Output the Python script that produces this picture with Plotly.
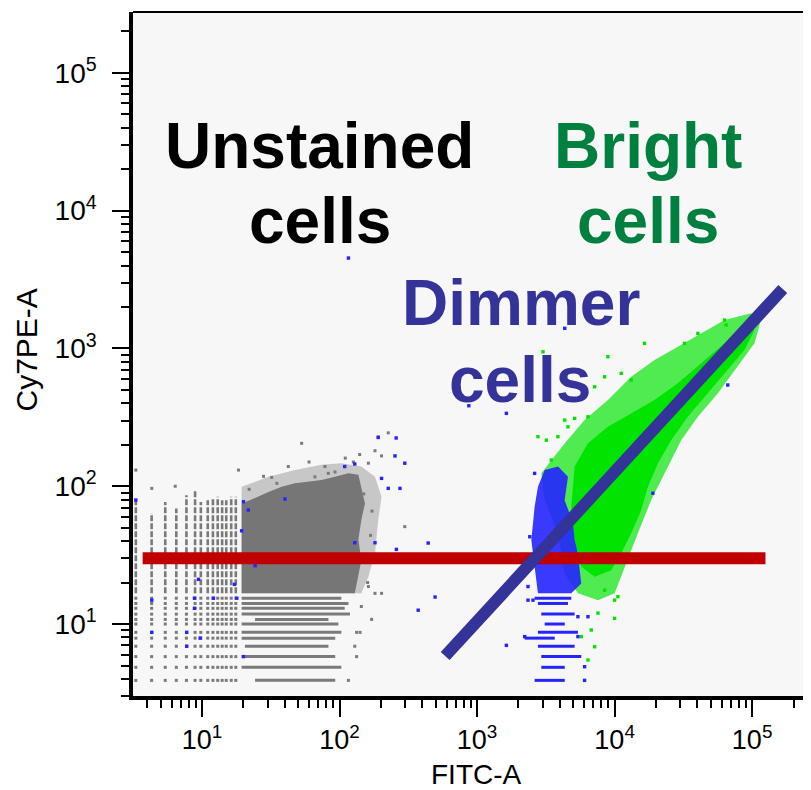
import plotly.graph_objects as go

# ---------------- axis ticks ----------------
major_vals = [1e1, 1e2, 1e3, 1e4, 1e5]
major_text = ["10<sup>1</sup>", "10<sup>2</sup>", "10<sup>3</sup>", "10<sup>4</sup>", "10<sup>5</sup>"]
minor_mult = [2, 3, 4, 5, 6, 7, 8, 9]
minor_decades = [1, 10, 100, 1000, 10000, 100000]

# ---------------- unstained (gray) population ----------------
gray_core_x = [19.4, 24.3, 30.4, 37.9, 47.4, 59.3, 74, 92.6, 116, 137, 144, 153, 144, 137, 144, 137, 129, 19.4]
gray_core_y = [75, 82, 91, 99, 105, 108, 111, 117, 124, 121, 99, 75, 57, 41, 29, 22, 16.7, 16.7]
gray_halo_x = [19.4, 30.4, 47.4, 74, 103, 144, 181, 202, 191, 181, 162, 144, 19.4]
gray_halo_y = [99, 117, 131, 143, 147, 139, 117, 84, 56.9, 32.6, 22, 16.7, 16.7]
# discrete low-value columns (FITC) and rows (Cy7PE)
col_x = [3.3, 4.3, 5.4, 6.5, 7.7, 8.9, 9.8, 11, 12, 13, 14, 15, 16.3, 17.6]
col_top = [79, 64, 77, 69, 86, 94, 77, 79, 82, 84, 79, 79, 84, 84]
col_bottom = 16.7
row_y = [15.4, 14.1, 13.0, 11.8, 10.8, 10.0, 8.7, 7.9, 6.9, 5.8, 4.85, 3.9]
row_start = [19.4, 19.4, 19.4, 19.4, 24.3, 19.4, 19.4, 19.4, 20.5, 19.4, 19.4, 24.3]
row_end = [103, 116, 109, 119, 83, 98, 103, 93, 83, 93, 103, 93]
gray_out_x = [53, 226, 181, 202, 162, 78.3, 42.4, 32.1, 18.4, 6.38, 4.31, 3.3, 298, 162, 181, 202, 144, 171,
              133, 141, 129, 133, 116, 82.8, 92.6, 66.2, 191, 126, 150, 172, 168, 158, 160, 28, 60, 110, 140, 35, 22]
gray_out_y = [205, 244, 181, 166, 147, 139, 139, 116, 131, 100, 96.5, 131, 50.9, 18.7, 16.7, 16.7, 13.4, 10.8,
              8.7, 8.7, 6.9, 5.8, 3.9, 124, 127, 117, 228, 150, 88, 66, 44, 28, 20, 118, 150, 160, 170, 105, 95]

# ---------------- dimmer (blue) population ----------------
blue_core_x = [3100, 3880, 4580, 4330, 5120, 5410, 5720, 4840, 2770, 2620, 2480, 2620, 2770]
blue_core_y = [131, 139, 117, 79, 50.8, 32.6, 19.7, 16.7, 16.7, 26.1, 40.7, 71, 99]
blue_row_y = [15.4, 14.1, 11.8, 10.0, 8.7, 7.9, 6.9, 5.8, 4.85, 3.9]
blue_row_start = [2620, 2770, 2930, 3100, 2770, 2220, 2770, 2930, 2930, 2620]
blue_row_end = [4840, 4580, 5120, 4340, 5410, 3670, 5120, 5720, 4340, 4340]
blue_out_x = [3.3, 20, 21.7, 19.4, 40.1, 109, 129, 191, 253, 298, 202, 226, 275, 259, 181, 129, 24.3, 17.2,
              17.9, 9.42, 8.81, 8.81, 12.1, 4.31, 4.31, 7.74, 9.69, 7.74, 20, 258, 441, 373, 495, 116, 871,
              1633, 4340, 18970, 66500, 1633, 2620, 2415, 2345, 2345, 5410, 6400, 5410, 6050, 6050, 2220, 2550]
blue_out_y = [79.4, 77.2, 67.2, 47.5, 80.8, 139, 145, 226, 166, 147, 114, 96.5, 96.5, 34.8, 38.9, 38.9, 26.5, 19.4,
              15.4, 21.1, 15.4, 13.0, 15.4, 14.9, 8.7, 8.7, 7.9, 6.9, 5.8, 224, 38.7, 12.6, 15.7, 4530, 384,
              338, 1400, 89, 543, 7.0, 124, 43, 18.7, 14.9, 11.3, 11.3, 8.1, 4.9, 3.9, 8.1, 14.9]

# ---------------- bright (green) population ----------------
green_halo_x = [2930, 4340, 6050, 8940, 13200, 19500, 28800, 42600, 63000, 98200, 116000, 104000, 78500,
                56200, 40300, 30500, 23100, 18450, 14760, 11830, 10000, 7570, 5410, 4340, 3870, 3100]
green_halo_y = [124, 205, 302, 422, 623, 824, 1029, 1286, 1607, 1798, 1607, 1089, 736,
                472, 319, 216, 124, 79.4, 45.5, 26.1, 16.7, 14.9, 16.7, 23.3, 45.5, 79.4]
green_core_x = [5120, 6400, 8940, 13200, 19500, 28800, 42600, 63000, 92900, 104000, 87900, 63000, 45100,
                34000, 25800, 20650, 17460, 15600, 13200, 11170, 9450, 7160, 5720, 5120, 4840]
green_core_y = [139, 205, 270, 338, 422, 558, 780, 1089, 1437, 1360, 973, 660, 446,
                319, 216, 147, 99, 67, 45.5, 32.6, 24.6, 22.0, 26.1, 40.7, 71]
green_out_x = [3015, 8940, 16500, 32200, 40300, 63000, 64700, 7160, 8460, 11170, 13200, 2770, 3190, 3870,
               4340, 5120, 4580, 6400, 3465, 10000, 10000, 7570, 6760, 7160, 5720, 6400, 8460, 10570]
green_out_y = [946, 871, 1089, 1089, 1286, 1607, 1479, 527, 623, 660, 590, 229, 216, 229,
               302, 311, 270, 319, 155, 14.9, 11.0, 12.0, 9.05, 6.84, 8.1, 5.48, 17.6, 15.8]

# ---------------- gates ----------------
red_gate_x = [3.7, 125000]
red_gate_y = [30, 30]
diag_gate_x = [586, 167000]
diag_gate_y = [5.86, 2700]

FONT = "Liberation Sans, Arial, Helvetica, sans-serif"
GRAY = "#7a7a7a"
BLUE_DOT = "#2424ff"
GREEN_DOT = "#00e400"


def segs_h(ys, x0s, x1s):
    xs, yy = [], []
    for y, a, b in zip(ys, x0s, x1s):
        xs += [a, b, None]
        yy += [y, y, None]
    return xs, yy


def segs_v(xs_in, tops, bottom):
    xs, yy = [], []
    for x, t in zip(xs_in, tops):
        xs += [x, x, None]
        yy += [bottom, t, None]
    return xs, yy


fig = go.Figure()


def poly(x, y, color):
    fig.add_trace(go.Scatter(x=x, y=y, mode="lines", fill="toself", fillcolor=color,
                             line=dict(width=0, color=color), hoverinfo="skip", showlegend=False))


def dots(x, y, color, size=3.2):
    fig.add_trace(go.Scatter(x=x, y=y, mode="markers",
                             marker=dict(symbol="square", size=size, color=color, line=dict(width=0)),
                             hoverinfo="skip", showlegend=False))


def lines(x, y, color, width, dash="solid"):
    fig.add_trace(go.Scatter(x=x, y=y, mode="lines", line=dict(color=color, width=width, dash=dash),
                             hoverinfo="skip", showlegend=False, connectgaps=False))


# gray population
poly(gray_halo_x, gray_halo_y, "rgba(122,122,122,0.38)")
poly(gray_core_x, gray_core_y, "#767676")
cx, cy = segs_v(col_x, col_top, col_bottom)
lines(cx, cy, GRAY, 2.6, dash="6px,2px")
lat_x = [c for c in col_x for r in row_y]
lat_y = [r for c in col_x for r in row_y]
dots(lat_x, lat_y, GRAY, 3)
rx, ry = segs_h(row_y, row_start, row_end)
lines(rx, ry, GRAY, 3)
dots(gray_out_x, gray_out_y, GRAY, 3)

# green halo, then blue, then green core
poly(green_halo_x, green_halo_y, "rgba(0,228,0,0.68)")
poly(blue_core_x, blue_core_y, "rgba(36,36,255,0.9)")
bx, by = segs_h(blue_row_y, blue_row_start, blue_row_end)
lines(bx, by, BLUE_DOT, 3)
poly(green_core_x, green_core_y, GREEN_DOT)
dots(green_out_x, green_out_y, GREEN_DOT, 3.4)
dots(blue_out_x, blue_out_y, BLUE_DOT, 3.4)

# gates
lines(red_gate_x, red_gate_y, "#c00000", 12)
lines(diag_gate_x, diag_gate_y, "#333399", 12)

minor_vals = [m * d for d in minor_decades for m in minor_mult]

axis_common = dict(
    type="log", showgrid=False, zeroline=False,
    showline=True, linecolor="black", linewidth=3.5,
    ticks="outside", ticklen=17, tickwidth=2, tickcolor="black",
    tickmode="array", tickvals=major_vals, ticktext=major_text,
    minor=dict(ticks="outside", ticklen=8, tickwidth=1.5, tickcolor="black",
               tickmode="array", tickvals=minor_vals, showgrid=False),
)

# the page body adds an 8px offset, so the figure is 8px smaller than the window
fig.update_layout(
    width=803, height=782,
    margin=dict(l=125, r=0, t=4, b=94),
    paper_bgcolor="white", plot_bgcolor="#f7f7f7",
    showlegend=False,
    xaxis=dict(range=[0.498, 5.428], ticklabelstandoff=0,
               tickfont=dict(family=FONT, size=27, color="black"), **axis_common),
    yaxis=dict(range=[0.4776, 5.442], ticklabelstandoff=10,
               tickfont=dict(family=FONT, size=28, color="black"), **axis_common),
    shapes=[dict(type="line", xref="paper", yref="paper", x0=0, x1=1, y0=1, y1=1,
                 line=dict(color="black", width=2))],
)

ann = [
    ("Unstained", 0.2758, 0.8041, "black"),
    ("cells", 0.2758, 0.6944, "black"),
    ("Bright", 0.7603, 0.8041, "#00803f"),
    ("cells", 0.7600, 0.6944, "#00803f"),
    ("Dimmer", 0.5723, 0.5746, "#333399"),
    ("cells", 0.5708, 0.4624, "#333399"),
]
for txt, ax, ay, col in ann:
    fig.add_annotation(text=txt, x=ax, y=ay, xref="paper", yref="paper", showarrow=False,
                       xanchor="center", yanchor="middle",
                       font=dict(family=FONT, size=64, color=col, weight="bold"))

fig.add_annotation(text="FITC-A", x=0.5066, y=-0.1148, xref="paper", yref="paper", showarrow=False,
                   xanchor="center", yanchor="middle", font=dict(family=FONT, size=28, color="black"))
fig.add_annotation(text="Cy7PE-A", x=-0.1578, y=0.5051, xref="paper", yref="paper", showarrow=False,
                   xanchor="center", yanchor="middle", textangle=-90,
                   font=dict(family=FONT, size=30, color="black"))

fig.write_html("out.html")
